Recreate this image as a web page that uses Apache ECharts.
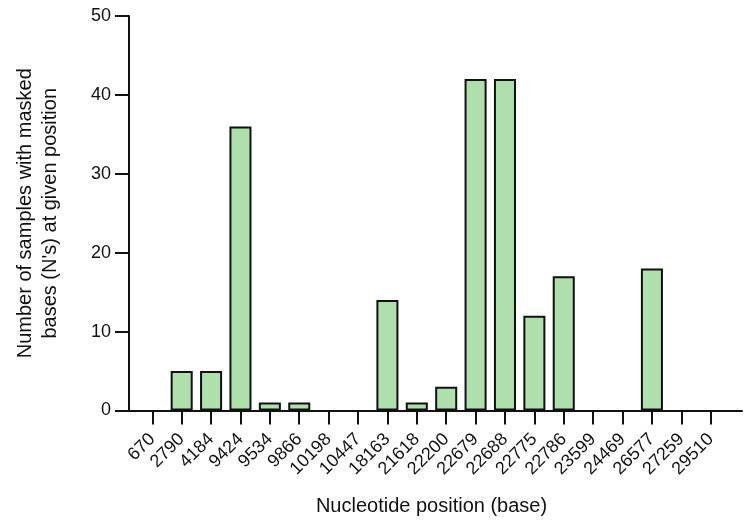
<!DOCTYPE html>
<html>
<head>
<meta charset="utf-8">
<script src="https://cdn.jsdelivr.net/npm/echarts@6/dist/echarts.min.js"></script>
<style>html,body{margin:0;padding:0;background:#fff}#c{width:744px;height:524px}</style>
</head>
<body>
<div id="c"></div>
<script>
var categories = ['670','2790','4184','9424','9534','9866','10198','10447','18163','21618','22200','22679','22688','22775','22786','23599','24469','26577','27259','29510'];
var values = [0,5,5,36,1,1,0,0,14,1,3,42,42,12,17,0,0,18,0,0];
var yTicks = [0,10,20,30,40,50];
var xTitle = 'Nucleotide position (base)';
var yTitle = "Number of samples with masked\nbases (N's) at given position";

var FONT = '"Liberation Sans", Arial, Helvetica, sans-serif';
var INK = '#111';
var barData = values.map(function(v){ return v === 0 ? '-' : v; });
var chart = echarts.init(document.getElementById('c'), null, {renderer:'canvas'});
chart.setOption({
  animation:false,
  backgroundColor:'#fff',
  grid:[
    {left:129, right:2, top:16, bottom:113.5, containLabel:false},
    {left:137.6, right:18.6, top:16, bottom:113.5, containLabel:false}
  ],
  xAxis:[
    {gridIndex:0, type:'value', min:0, max:1, axisLine:{show:true, onZero:false, lineStyle:{color:INK,width:2}},
     axisTick:{show:false}, axisLabel:{show:false}, splitLine:{show:false}},
    {gridIndex:1, type:'category', data:categories, boundaryGap:true,
     axisLine:{show:false}, axisTick:{show:true, alignWithLabel:true, length:14, inside:false, lineStyle:{color:INK,width:2}},
     axisLabel:{rotate:45, margin:26, fontSize:18, color:INK, fontFamily:FONT, interval:0},
     name:xTitle, nameLocation:'middle', nameGap:86, nameTextStyle:{fontSize:20, color:INK, fontFamily:FONT},
     splitLine:{show:false}}
  ],
  yAxis:[
    {gridIndex:0, type:'value', min:0, max:50, interval:10,
     axisLine:{show:true, lineStyle:{color:INK,width:2}},
     axisTick:{show:true, length:14, lineStyle:{color:INK,width:2}},
     axisLabel:{fontSize:18, color:INK, fontFamily:FONT, margin:18,
       formatter:function(v){return yTicks.indexOf(v)>=0?String(v):'';}},
     splitLine:{show:false},
     name:yTitle, nameLocation:'middle', nameGap:66, nameRotate:90,
     nameTextStyle:{fontSize:20, color:INK, fontFamily:FONT, lineHeight:25, align:'center'}},
    {gridIndex:1, type:'value', min:0, max:50, interval:10, show:false, splitLine:{show:false}}
  ],
  series:[{
    type:'bar', xAxisIndex:1, yAxisIndex:1, data:barData, barWidth:'75%',
    itemStyle:{color:'#aedfac', borderColor:INK, borderWidth:2}
  }]
});
</script>
</body>
</html>
